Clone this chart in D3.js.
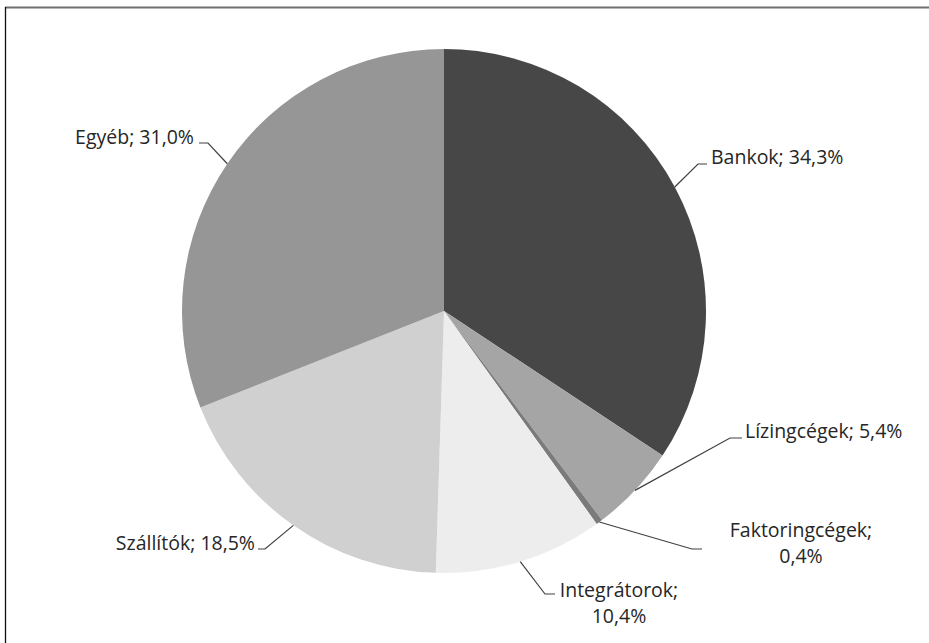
<!DOCTYPE html>
<html lang="hu">
<head>
<meta charset="utf-8">
<script src="https://cdnjs.cloudflare.com/ajax/libs/d3/7.8.5/d3.min.js"></script>
<style>
  html, body { margin: 0; padding: 0; background: #fff; }
  svg { display: block; }
  text { font-family: "Open Sans", "Noto Sans", sans-serif; fill: #262626; }
</style>
</head>
<body>
<svg id="chart" width="929" height="643"></svg>
<script>
// Finanszírozási források megoszlása
const categories = ["Bankok", "Lízingcégek", "Faktoringcégek", "Integrátorok", "Szállítók", "Egyéb"];
const shares = [34.3, 5.4, 0.4, 10.4, 18.5, 31.0];
const sliceColors = ["#474747", "#a5a5a5", "#7b7b7b", "#ededed", "#d0d0d0", "#969696"];

// Label lines (text split into rows) and where each label sits
const labelRows = [
  ["Bankok; 34,3%"],
  ["Lízingcégek; 5,4%"],
  ["Faktoringcégek;", "0,4%"],
  ["Integrátorok;", "10,4%"],
  ["Szállítók; 18,5%"],
  ["Egyéb; 31,0%"]
];
const labelLayout = [
  { elbow: [698, 164], end: [707, 164], tx: 711, ty: 164, anchor: "start" },
  { elbow: [730, 438], end: [742, 438], tx: 745, ty: 438, anchor: "start" },
  { elbow: [692, 549], end: [702, 549], tx: 801, ty: 537, anchor: "middle" },
  { elbow: [545, 594], end: [555, 594], tx: 619, ty: 597, anchor: "middle" },
  { elbow: [265, 549], end: [258, 549], tx: 255, ty: 550, anchor: "end" },
  { elbow: [208, 143], end: [199, 143], tx: 194, ty: 144, anchor: "end" }
];

const svg = d3.select("#chart");
const cx = 444, cy = 311, radius = 262;

// Frame edges
svg.append("line").attr("x1", 5).attr("x2", 929).attr("y1", 7.5).attr("y2", 7.5)
  .attr("stroke", "#707070").attr("stroke-width", 2);
svg.append("line").attr("x1", 5.5).attr("x2", 5.5).attr("y1", 7).attr("y2", 643)
  .attr("stroke", "#111").attr("stroke-width", 1.3);

const data = categories.map((c, i) => ({ name: c, value: shares[i], idx: i }));
const pie = d3.pie().value(d => d.value).sort(null).startAngle(0).endAngle(2 * Math.PI);
const arcs = pie(data);
const arc = d3.arc().innerRadius(0).outerRadius(radius);

const g = svg.append("g").attr("transform", `translate(${cx},${cy})`);
g.selectAll("path.slice")
  .data(arcs)
  .join("path")
  .attr("class", "slice")
  .attr("d", arc)
  .attr("fill", d => sliceColors[d.data.idx]);

// Leader lines from the middle of each slice's outer edge
const leaders = svg.append("g");
arcs.forEach(a => {
  const mid = (a.startAngle + a.endAngle) / 2;
  const sx = cx + radius * Math.sin(mid);
  const sy = cy - radius * Math.cos(mid);
  const L = labelLayout[a.data.idx];
  leaders.append("polyline")
    .attr("points", [[sx, sy], L.elbow, L.end].map(p => p.join(",")).join(" "))
    .attr("fill", "none")
    .attr("stroke", "#404040")
    .attr("stroke-width", 1.2);
});

// Labels
const labels = svg.append("g");
arcs.forEach(a => {
  const L = labelLayout[a.data.idx];
  const t = labels.append("text")
    .attr("x", L.tx).attr("y", L.ty)
    .attr("text-anchor", L.anchor)
    .attr("font-size", 19.5);
  labelRows[a.data.idx].forEach((row, j) => {
    t.append("tspan").attr("x", L.tx).attr("dy", j === 0 ? 0 : 26).text(row);
  });
});
</script>
</body>
</html>
